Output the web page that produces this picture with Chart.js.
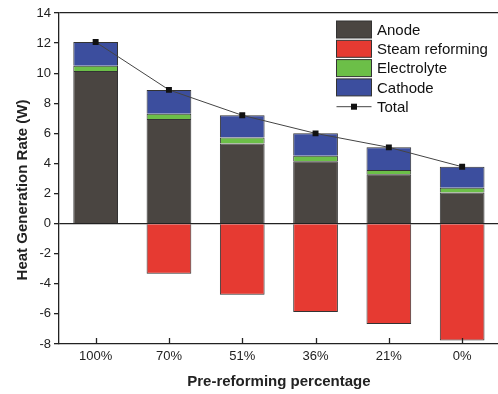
<!DOCTYPE html>
<html>
<head>
<meta charset="utf-8">
<script src="https://cdn.jsdelivr.net/npm/chart.js@4.4.1/dist/chart.umd.min.js"></script>
<style>
  html, body { margin: 0; padding: 0; background: #ffffff; overflow: hidden; }
  #wrap { width: 498px; height: 394px; overflow: hidden; position: relative; }
  canvas { display: block; }
</style>
</head>
<body>
<div id="wrap"><canvas id="c" width="503" height="394"></canvas></div>
<script>
// Categories: pre-reforming percentage
const categories = ['100%', '70%', '51%', '36%', '21%', '0%'];

// Heat generation rate components (W)
const anode = [10.15, 6.95, 5.33, 4.15, 3.29, 2.07];
const steamReforming = [null, -3.33, -4.73, -5.87, -6.67, -7.76];
const electrolyte = [0.35, 0.36, 0.40, 0.36, 0.28, 0.31];
const cathode = [1.57, 1.58, 1.47, 1.49, 1.50, 1.40];
const total = [12.07, 8.89, 7.20, 6.00, 5.07, 3.78];

// Y axis range and step
const yMin = -8, yMax = 14, yStep = 2;

const FONT = 'Arial, "Liberation Sans", sans-serif';
const INK = '#222222';

// Inward tick marks on the category axis
const xTickPlugin = {
  id: 'xInwardTicks',
  afterDatasetsDraw(chart) {
    const x = chart.scales.x, ctx = chart.ctx;
    const yb = chart.chartArea.bottom;
    ctx.save();
    ctx.strokeStyle = INK;
    ctx.lineWidth = 1.3;
    x.ticks.forEach((t, i) => {
      const px = Math.round(x.getPixelForTick(i)) + 0.5;
      ctx.beginPath();
      ctx.moveTo(px, yb);
      ctx.lineTo(px, yb - 6);
      ctx.stroke();
    });
    ctx.restore();
  }
};

// Vertical axis title
const yTitlePlugin = {
  id: 'yTitle',
  afterDraw(chart) {
    const ctx = chart.ctx;
    ctx.save();
    ctx.translate(23, 190);
    ctx.rotate(-Math.PI / 2);
    ctx.font = 'bold 15px ' + FONT;
    ctx.fillStyle = INK;
    ctx.textAlign = 'center';
    ctx.textBaseline = 'middle';
    ctx.fillText('Heat Generation Rate (W)', 0, 0);
    ctx.restore();
  }
};

// Legend box in the upper right of the plot
const legendPlugin = {
  id: 'boxLegend',
  afterDraw(chart) {
    const ctx = chart.ctx;
    const ds = chart.data.datasets;
    const bx = 336.5, bw = 35, bh = 17, top = 21, pitch = 19.3, tx = 377;
    ctx.save();
    ctx.font = '15px ' + FONT;
    ctx.textBaseline = 'middle';
    ctx.textAlign = 'left';
    ds.forEach((d, i) => {
      const y = top + i * pitch;
      const cy = y + bh / 2;
      if (d.type === 'line') {
        ctx.strokeStyle = d.borderColor;
        ctx.lineWidth = 1;
        ctx.beginPath();
        ctx.moveTo(bx, cy);
        ctx.lineTo(bx + bw, cy);
        ctx.stroke();
        ctx.fillStyle = d.pointBackgroundColor;
        ctx.fillRect(bx + bw / 2 - 3, cy - 3, 6, 6);
      } else {
        ctx.fillStyle = d.backgroundColor;
        ctx.fillRect(bx, y, bw, bh);
        ctx.strokeStyle = '#333333';
        ctx.lineWidth = 1;
        ctx.strokeRect(bx, y, bw, bh);
      }
      ctx.fillStyle = '#111111';
      ctx.fillText(d.label, tx, cy + 1);
    });
    ctx.restore();
  }
};

const barCommon = {
  type: 'bar',
  borderColor: '#333333',
  borderWidth: 1,
  barPercentage: 0.61,
  categoryPercentage: 1.0,
  stack: 'heat',
  order: 1
};

new Chart(document.getElementById('c'), {
  data: {
    labels: categories,
    datasets: [
      Object.assign({}, barCommon, { label: 'Anode', data: anode, backgroundColor: '#4a4541' }),
      Object.assign({}, barCommon, { label: 'Steam reforming', data: steamReforming, backgroundColor: '#e63a32' }),
      Object.assign({}, barCommon, { label: 'Electrolyte', data: electrolyte, backgroundColor: '#6cbf48' }),
      Object.assign({}, barCommon, { label: 'Cathode', data: cathode, backgroundColor: '#3c4e9e' }),
      {
        type: 'line',
        label: 'Total',
        data: total,
        borderColor: '#444444',
        borderWidth: 1,
        pointStyle: 'rect',
        pointRadius: 4.2,
        pointBackgroundColor: '#111111',
        pointBorderColor: '#111111',
        pointBorderWidth: 0,
        tension: 0,
        order: 0
      }
    ]
  },
  options: {
    responsive: false,
    animation: false,
    layout: { padding: { top: 13, right: 1, left: 0, bottom: 0 } },
    plugins: { legend: { display: false }, tooltip: { enabled: false } },
    scales: {
      x: {
        stacked: true,
        afterFit(s) { s.height = 50; },
        grid: { display: false, drawTicks: false },
        border: { display: true, color: INK, width: 1.3 },
        ticks: { color: INK, font: { family: FONT, size: 13 }, padding: 5 },
        title: {
          display: true,
          text: 'Pre-reforming percentage',
          color: INK,
          font: { family: FONT, size: 15, weight: 'bold' },
          padding: { top: 0, bottom: 3 }
        }
      },
      y: {
        stacked: true,
        min: yMin,
        max: yMax,
        afterFit(s) { s.width = 59; },
        ticks: { stepSize: yStep, color: INK, font: { family: FONT, size: 13 }, padding: 3 },
        grid: {
          drawOnChartArea: true,
          color: (c) => (c.tick && (c.tick.value === 0 || c.tick.value === yMax)) ? INK : 'rgba(0,0,0,0)',
          lineWidth: 1.3,
          tickColor: INK,
          tickLength: 5,
          tickWidth: 1.3
        },
        border: { display: true, color: INK, width: 1.3 }
      }
    }
  },
  plugins: [xTickPlugin, yTitlePlugin, legendPlugin]
});
</script>
</body>
</html>
